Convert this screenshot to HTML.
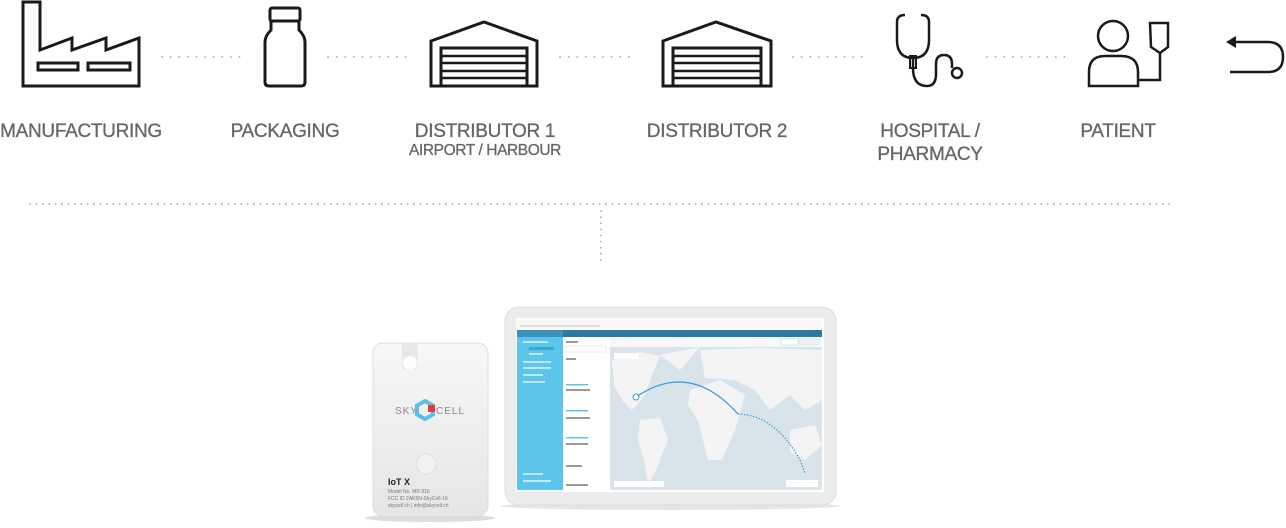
<!DOCTYPE html>
<html><head><meta charset="utf-8"><style>
body{margin:0;width:1286px;height:528px;background:#fff;position:relative;overflow:hidden;font-family:"Liberation Sans",sans-serif}
.l{position:absolute;color:#666;font-size:19px;text-align:center;white-space:nowrap;transform:translateX(-50%);letter-spacing:-0.3px;line-height:23px;-webkit-text-stroke:0.3px #666}
.s{font-size:15.5px;line-height:16px;display:block;letter-spacing:-0.4px}
</style></head><body>
<svg width="1286" height="528" style="position:absolute;left:0;top:0">
<g fill="none" stroke="#1a1a1a" stroke-width="3" stroke-linejoin="miter">
<!-- factory -->
<path d="M23 86 V2 H40 V50 L72 38 V50 L106 38 V50 L139 38 V86 Z"/>
<rect x="38" y="63" width="40" height="7"/><rect x="88" y="63" width="42" height="7"/>
<!-- bottle -->
<rect x="270" y="8" width="30" height="13" rx="2"/>
<path d="M271 21 V30 Q265 36 265 42 V82 Q265 86 269 86 H301 Q305 86 305 82 V42 Q305 36 299 30 V21"/>
<!-- warehouses -->
<path d="M431 86 V41 L484 22 L537 41 V86 Z"/>
<rect x="441" y="48" width="86" height="38"/>
<path d="M441 56 H527 M441 63 H527 M441 71 H527 M441 78 H527" stroke-width="2.5"/>
<path d="M663 86 V41 L716 22 L771 41 V86 Z"/>
<rect x="673" y="48" width="88" height="38"/>
<path d="M673 56 H761 M673 63 H761 M673 71 H761 M673 78 H761" stroke-width="2.5"/>
<!-- stethoscope -->
<path d="M905 15 Q897 15 897 22 V40 Q897 58 913 58 Q929 58 929 40 V22 Q929 15 921 15" stroke-width="2.5"/>
<path d="M913 58 V68 Q913 86 927 86 Q936 86 936 74 V64 Q936 55 944 55 Q952 55 952 64 V68" stroke-width="2.5"/>
<rect x="910" y="56" width="6" height="12" stroke-width="2"/>
<circle cx="957" cy="73" r="5" stroke-width="2.5"/>
<!-- patient -->
<circle cx="1113" cy="36" r="15" stroke-width="2.5"/>
<path d="M1089 86 V72 Q1089 56 1105 56 H1121 Q1138 56 1138 72 V86 Z" stroke-width="2.5"/>
<path d="M1150 23 H1168 V47 L1160 53 L1151 47 Z" stroke-width="2.5"/>
<path d="M1160 53 V80 H1139" stroke-width="2.5"/>
<!-- return arrow -->
<path d="M1230 42 H1268 Q1283 42 1283 57 Q1283 72 1268 72 H1230" stroke-width="2.5"/>
</g>
<path d="M1226 42 L1236 36 V48 Z" fill="#1a1a1a"/>
<g stroke="#aaa" stroke-width="1.8" stroke-dasharray="0.1 8.5" stroke-linecap="round">
<path d="M162 57 H245 M328 57 H410 M560 57 H630 M793 57 H868 M987 57 H1068"/>
<path d="M30 204 H1173" stroke-dasharray="0.1 6.3"/>
<path d="M601 211 V262" stroke-dasharray="0.1 6"/>
</g>
<!-- device -->
<defs><linearGradient id="dg" x1="0" x2="0" y1="0" y2="1"><stop offset="0" stop-color="#f7f7f7"/><stop offset="1" stop-color="#e6e6e6"/></linearGradient></defs>
<ellipse cx="430" cy="518" rx="65" ry="4" fill="#ddd"/>
<rect x="373" y="343" width="115" height="173" rx="10" fill="url(#dg)" stroke="#ddd"/>
<rect x="402" y="343" width="16" height="27" rx="4" fill="#e8e8e8"/>
<circle cx="410" cy="363" r="7" fill="#fdfdfd"/>
<circle cx="426" cy="464" r="10" fill="#f2f2f2" stroke="#ddd"/>
<text x="395" y="414" font-size="10" fill="#888" letter-spacing="1">SKY</text>
<polygon points="425,401 433,405.5 433,414.5 425,419 417,414.5 417,405.5" fill="none" stroke="#5bc0e6" stroke-width="4"/>
<rect x="428" y="405" width="7" height="7" fill="#e53a3a"/>
<text x="436" y="414" font-size="10" fill="#888" letter-spacing="1">CELL</text>
<text x="388" y="485" font-size="9" font-weight="bold" fill="#222">IoT X</text>
<text x="388" y="493" font-size="5" fill="#777">Model No.    MR 816</text>
<text x="388" y="500" font-size="5" fill="#777">FCC ID         2AK5N-SkyCell-16</text>
<text x="388" y="507" font-size="5" fill="#777">skycell.ch | info@skycell.ch</text>
<!-- tablet -->
<ellipse cx="670" cy="506" rx="170" ry="4" fill="#e5e5e5"/>
<rect x="505" y="307" width="331" height="198" rx="14" fill="#ececec" stroke="#ddd"/>
<rect x="516" y="318" width="308" height="174" fill="#fff"/>
<rect x="517" y="320" width="305" height="9" fill="#f7f7f7"/>
<rect x="520" y="325" width="80" height="2" fill="#ddd"/>
<rect x="517" y="330" width="305" height="7" fill="#2c7aa0"/>
<rect x="517" y="330" width="46" height="7" fill="#3a8fbb"/>
<rect x="517" y="337" width="46" height="153" fill="#5cc5ec"/>
<g fill="#bfe8f7"><rect x="523" y="341" width="25" height="2"/><rect x="529" y="347" width="25" height="3" fill="#3aa7d6"/><rect x="529" y="353" width="14" height="2"/><rect x="523" y="361" width="28" height="2"/><rect x="523" y="367" width="28" height="2"/><rect x="523" y="374" width="20" height="2"/><rect x="523" y="381" width="22" height="2"/><rect x="523" y="473" width="20" height="2"/><rect x="523" y="480" width="28" height="2"/></g>
<rect x="563" y="337" width="47" height="153" fill="#fff"/>
<g fill="#999"><rect x="566" y="341" width="12" height="2"/><rect x="566" y="358" width="10" height="2"/><rect x="566" y="389" width="24" height="2"/><rect x="566" y="417" width="24" height="2"/><rect x="566" y="443" width="22" height="2"/><rect x="566" y="465" width="16" height="2"/><rect x="566" y="484" width="22" height="2"/></g>
<rect x="566" y="346" width="40" height="6" fill="none" stroke="#ddd" stroke-width="0.5"/>
<g fill="#5cc5ec"><rect x="566" y="384" width="22" height="1.5"/><rect x="566" y="410" width="22" height="1.5"/><rect x="566" y="437" width="22" height="1.5"/></g>
<rect x="610" y="337" width="212" height="10" fill="#f7f7f7"/>
<rect x="781" y="339" width="17" height="6" fill="#fff" stroke="#9cd4ee" stroke-width="0.5"/>
<rect x="799" y="339" width="20" height="6" fill="#f0f0f0" stroke="#ddd" stroke-width="0.5"/>
<rect x="610" y="347" width="212" height="143" fill="#d9e4ea"/>
<g fill="#f4f4f4">
<path d="M612 360 L640 352 L660 356 L652 375 L645 395 L632 410 L622 400 L614 385 Z"/>
<path d="M640 420 L660 418 L668 440 L656 470 L648 485 L644 460 L638 440 Z"/>
<path d="M660 355 L700 347 L680 370 Z"/>
<path d="M690 390 L720 380 L745 395 L735 430 L722 460 L708 460 L698 420 L688 405 Z"/>
<path d="M700 350 L760 348 L822 350 L822 400 L805 410 L790 395 L770 410 L755 390 L735 380 L705 378 Z"/>
<path d="M790 430 L815 425 L822 445 L805 460 L790 452 Z"/>
</g>
<rect x="614" y="353" width="25" height="6" fill="#fff"/>
<path d="M636 397 Q690 360 738 414" fill="none" stroke="#3a9ad6" stroke-width="1.2"/>
<path d="M738 414 Q775 415 800 460 L805 473" fill="none" stroke="#3a9ad6" stroke-width="1.2" stroke-dasharray="1.5 1.5"/>
<circle cx="636" cy="397" r="3" fill="#fff" stroke="#3a9ad6"/>
<rect x="614" y="481" width="50" height="6" fill="#fff"/>
<rect x="786" y="480" width="32" height="7" fill="#fff"/>
</svg>
<div class="l" style="left:81px;top:120px">MANUFACTURING</div>
<div class="l" style="left:285px;top:120px">PACKAGING</div>
<div class="l" style="left:485px;top:120px">DISTRIBUTOR 1<span class="s">AIRPORT / HARBOUR</span></div>
<div class="l" style="left:717px;top:120px">DISTRIBUTOR 2</div>
<div class="l" style="left:930px;top:120px">HOSPITAL /<br>PHARMACY</div>
<div class="l" style="left:1118px;top:120px">PATIENT</div>
</body></html>
